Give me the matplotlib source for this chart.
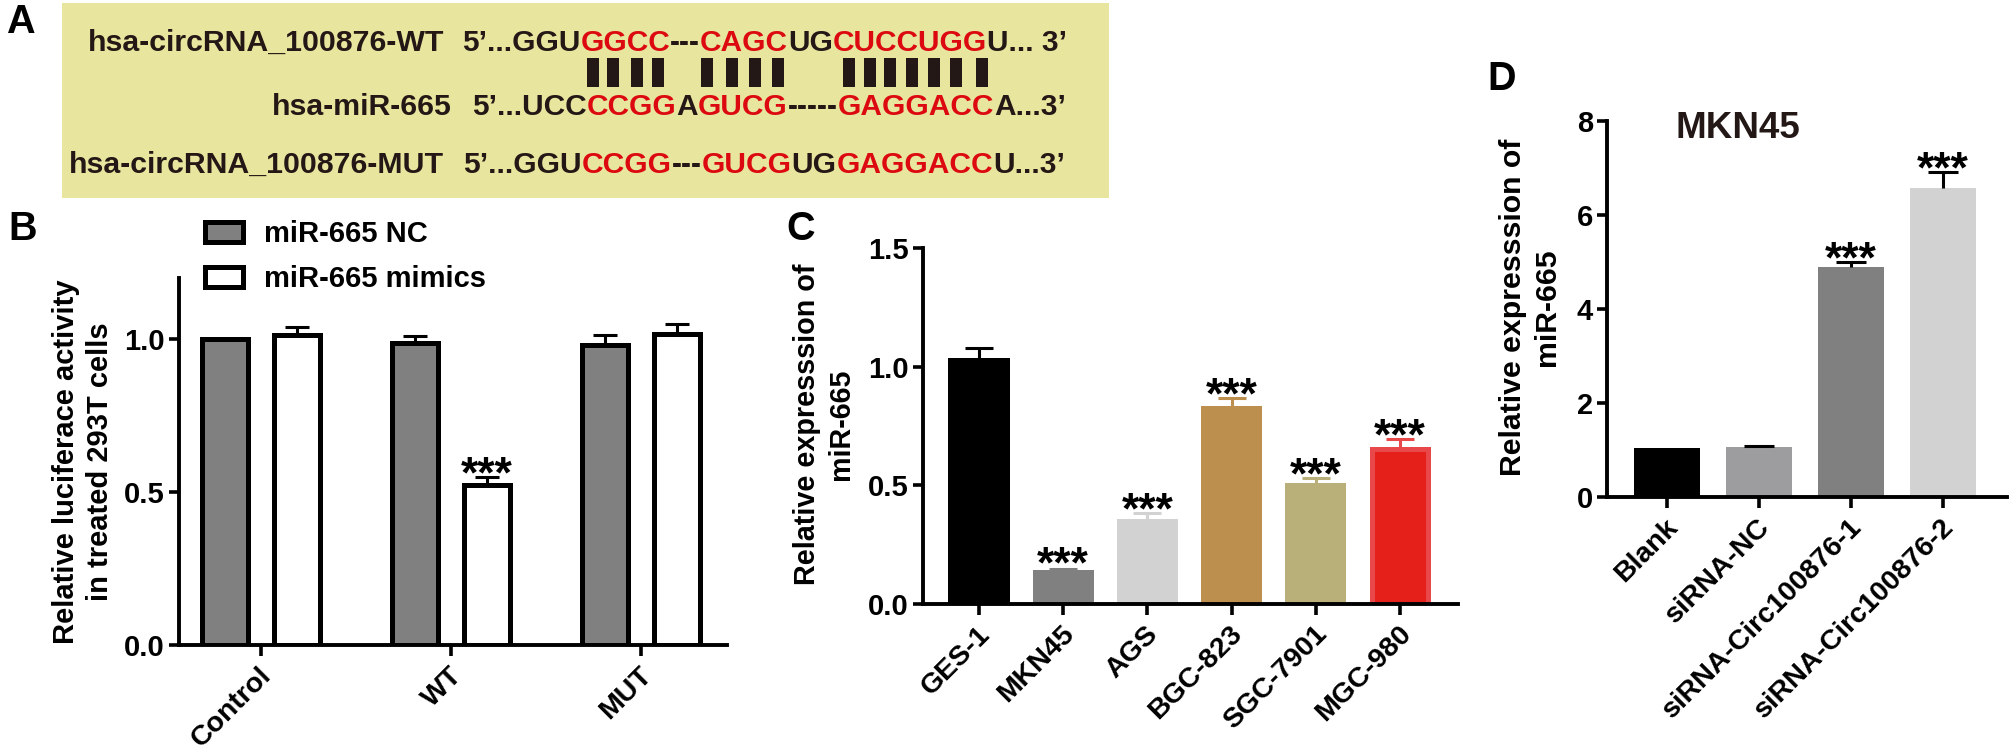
import matplotlib
matplotlib.use("Agg")
import matplotlib.pyplot as plt
from matplotlib.patches import Patch
from matplotlib.transforms import Affine2D, ScaledTranslation

W, H = 2013, 749
plt.rcParams['font.family'] = ['Liberation Sans', 'DejaVu Sans']
plt.rcParams['font.weight'] = 'bold'
plt.rcParams['axes.labelweight'] = 'bold'

# ---- data ----
b_groups = ["Control", "WT", "MUT"]
b_nc = [1.00, 0.987, 0.982]
b_nc_err = [0.0, 0.023, 0.031]
b_mimics = [1.015, 0.523, 1.018]
b_mimics_err = [0.025, 0.027, 0.032]
b_legend = ["miR-665 NC", "miR-665 mimics"]

c_lines = ["GES-1", "MKN45", "AGS", "BGC-823", "SGC-7901", "MGC-980"]
c_values = [1.037, 0.143, 0.358, 0.835, 0.51, 0.655]
c_err = [0.043, 0.006, 0.025, 0.033, 0.02, 0.04]
c_colors = ["#000000", "#808080", "#D2D2D2", "#BC8F4F", "#B9AF78", "#E5201A"]
c_stars = [False, True, True, True, True, True]

d_groups = ["Blank", "siRNA-NC", "siRNA-Circ100876-1", "siRNA-Circ100876-2"]
d_values = [1.05, 1.06, 4.89, 6.58]
d_err = [0.0, 0.02, 0.11, 0.34]
d_colors = ["#000000", "#9D9DA0", "#808080", "#D2D2D2"]
d_ecolors = ["#000000", "#000000", "#000000", "#000000"]
d_stars = [False, False, True, True]

RED = "#DC0A10"
INK = "#231815"
row_wt = [("5’...GGU", INK), ("GGCC", RED), ("---", INK), ("CAGC", RED), ("UG", INK), ("CUCCUGG", RED), ("U... 3’", INK)]
row_mir = [("5’...UCC", INK), ("CCGG", RED), ("A", INK), ("GUCG", RED), ("-----", INK), ("GAGGACC", RED), ("A...3’", INK)]
row_mut = [("5’...GGU", INK), ("CCGG", RED), ("---", INK), ("GUCG", RED), ("UG", INK), ("GAGGACC", RED), ("U...3’", INK)]
row_names = ["hsa-circRNA_100876-WT", "hsa-miR-665", "hsa-circRNA_100876-MUT"]
pair_x = [592.5, 613, 636.5, 658, 707, 732, 755, 778, 849, 869.5, 890, 912, 934, 956, 982]

fig = plt.figure(figsize=(W / 100, H / 100), dpi=100, facecolor="white")
px = Affine2D().scale(1 / W, -1 / H).translate(0, 1) + fig.transFigure
label_shift = ScaledTranslation(5 / 72, 0, fig.dpi_scale_trans)


def make_axes(l, t, r, b):
    return fig.add_axes([l / W, 1 - b / H, (r - l) / W, (b - t) / H])


def style(ax, ticks_y, fmt, labels, label_size=20.5):
    for s in ("top", "right"):
        ax.spines[s].set_visible(False)
    for s in ("left", "bottom"):
        ax.spines[s].set_linewidth(2.8)
    ax.set_yticks(ticks_y)
    ax.set_yticklabels([fmt.format(v) for v in ticks_y], fontsize=21, fontweight='bold')
    ax.set_xticks(range(len(labels)))
    ax.set_xticklabels(labels, rotation=45, ha='right', va='center', rotation_mode='anchor',
                       fontsize=label_size, fontweight='bold')
    ax.tick_params(axis='y', length=7.5, width=2.6, pad=2.5)
    ax.tick_params(axis='x', length=8, width=2.6, pad=11)
    for lab in ax.get_xticklabels():
        lab.set_transform(lab.get_transform() + label_shift)
    ax.patch.set_alpha(0)


def err_up(ax, x, y, e, color, cap):
    eb = ax.errorbar(x, y, yerr=[[0], [e]], ecolor=color, elinewidth=2.2, capsize=cap,
                     capthick=2.2, fmt='none', zorder=1.5)
    eb[1][0].set_visible(False)
    return y + e


def stars(ax, x, y, off=-7.5):
    ax.annotate("***", (x, y), xytext=(0, off), textcoords='offset points', ha='center',
                va='baseline', fontsize=32, fontweight='bold', color='black', zorder=5)


# ---- panel A ----
axa = make_axes(62, 3, 1109, 198)
axa.set_xlim(62, 1109)
axa.set_ylim(198, 3)
axa.set_facecolor("#E8E69E")
axa.set_xticks([])
axa.set_yticks([])
for s in axa.spines.values():
    s.set_visible(False)
axa.bar(pair_x, 29, bottom=58, width=12, color=INK)
renderer = fig.canvas.get_renderer()


def seq_row(segs, name, x0, x1, name_end, base):
    axa.text(name_end, base, name, ha='right', va='baseline', fontsize=21.8, color=INK)
    probe = axa.text(0, 0, "".join(s for s, _ in segs), fontsize=21.5)
    size = 21.5 * (x1 - x0) / probe.get_window_extent(renderer).width
    probe.remove()
    x = x0
    for s, c in segs:
        t = axa.text(x, base, s, ha='left', va='baseline', fontsize=size, color=c)
        x += t.get_window_extent(renderer).width


seq_row(row_wt, row_names[0], 462, 1067, 444, 51)
seq_row(row_mir, row_names[1], 472, 1067, 452, 115)
seq_row(row_mut, row_names[2], 463, 1067, 444, 173)

# ---- panel B ----
axb = make_axes(179, 278, 727, 645)
axb.set_xlim((179 - 261) / 190, (727 - 261) / 190)
axb.set_ylim(0, 1.2)
style(axb, [0.0, 0.5, 1.0], "{:.1f}", b_groups)
for i in range(3):
    xn, xm = i - 0.19, i + 0.19
    axb.bar(xn, b_nc[i], width=0.242, color="#808080", edgecolor="black", linewidth=3.6, zorder=2)
    axb.bar(xm, b_mimics[i], width=0.242, color="white", edgecolor="black", linewidth=3.6, zorder=2)
    if b_nc_err[i] > 0:
        err_up(axb, xn, b_nc[i], b_nc_err[i], "black", 8.5)
    top = err_up(axb, xm, b_mimics[i], b_mimics_err[i], "black", 8.5)
    if i == 1:
        stars(axb, xm, top)
axb.set_ylabel("Relative luciferace activity\nin treated 293T cells", fontsize=21, fontweight='bold',
               va='center', ha='center', linespacing=1.26)
axb.yaxis.set_label_coords(83, 462, transform=px)
handles = [Patch(facecolor="#808080", edgecolor="black", linewidth=3.6),
           Patch(facecolor="white", edgecolor="black", linewidth=3.6)]
leg = axb.legend(handles, b_legend, loc='upper left', bbox_to_anchor=(205, 220), bbox_transform=px,
                 frameon=False, fontsize=21, borderpad=0, borderaxespad=0, handlelength=1.3,
                 handleheight=0.68, handletextpad=0.72, labelspacing=0.58)

# ---- panel C ----
axc = make_axes(923, 248, 1458, 604)
axc.set_xlim((923 - 979) / 84.2, (1458 - 979) / 84.2)
axc.set_ylim(0, 1.5)
style(axc, [0.0, 0.5, 1.0, 1.5], "{:.1f}", c_lines)
for i, v in enumerate(c_values):
    if i == 5:
        axc.bar(i, v, width=0.665, color=c_colors[i], edgecolor="#E8484A", linewidth=3.6, zorder=2)
    else:
        axc.bar(i, v, width=0.725, color=c_colors[i], linewidth=0, zorder=2)
    top = err_up(axc, i, v, c_err[i], "#E8484A" if i == 5 else c_colors[i], 10)
    if c_stars[i]:
        stars(axc, i, top, -6 if i == 1 else -7.5)
axc.set_ylabel("Relative expresssion of\nmiR-665", fontsize=20.7, fontweight='bold',
               va='center', ha='center', linespacing=1.3)
axc.yaxis.set_label_coords(824, 424, transform=px)

# ---- panel D ----
axd = make_axes(1607, 121, 2006.5, 497)
axd.set_xlim((1607 - 1667) / 92, (2006.5 - 1667) / 92)
axd.set_ylim(0, 8)
style(axd, [0, 2, 4, 6, 8], "{:d}", d_groups)
for i, v in enumerate(d_values):
    axd.bar(i, v, width=0.728, color=d_colors[i], linewidth=0, zorder=1)
    top = v
    if d_err[i] > 0:
        top = err_up(axd, i, v, d_err[i], d_ecolors[i], 10.8)
    if d_stars[i]:
        stars(axd, i, top)
axd.set_ylabel("Relative expresssion of\nmiR-665", fontsize=21.8, fontweight='bold',
               va='center', ha='center', linespacing=1.3)
axd.yaxis.set_label_coords(1530, 307, transform=px)
fig.text(1738, 138, "MKN45", transform=px, ha='center', va='baseline', fontsize=26.5, fontweight='bold', color=INK)

# ---- panel letters ----
for letter, x, y in [("A", 6, 33), ("B", 8, 240), ("C", 786, 240), ("D", 1487, 90)]:
    fig.text(x, y, letter, transform=px, ha='left', va='baseline', fontsize=28.5, fontweight='bold', color='black')

fig.savefig("out.png", dpi=100)
